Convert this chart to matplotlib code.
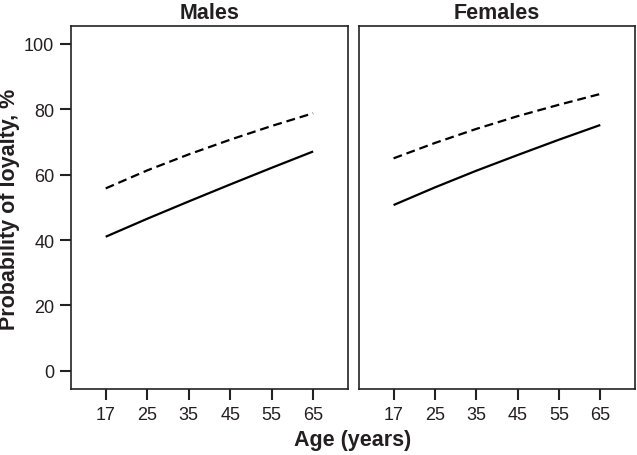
import matplotlib
matplotlib.use("Agg")
import matplotlib.pyplot as plt

ages = ["17", "25", "35", "45", "55", "65"]
panels = ["Males", "Females"]

# probability of loyalty, % (solid / dashed curves)
males_solid = [41.0, 46.5, 51.8, 57.0, 62.1, 67.1]
males_dashed = [55.8, 61.3, 66.2, 70.7, 74.9, 78.8]
females_solid = [50.7, 56.1, 61.2, 66.0, 70.7, 75.2]
females_dashed = [65.0, 69.7, 74.0, 77.9, 81.4, 84.7]

plt.rcParams['font.family'] = ['Liberation Sans', 'DejaVu Sans']
txt = '#231f20'

fig = plt.figure(figsize=(6.37, 4.56), dpi=100)
ax1 = fig.add_axes([71/637, 1-390/456, 277/637, 363/456])
ax2 = fig.add_axes([359/637, 1-390/456, 276/637, 363/456])

data = [(males_solid, males_dashed), (females_solid, females_dashed)]
xpos = list(range(len(ages)))

for ax, title, (solid, dashed) in zip([ax1, ax2], panels, data):
    ax.plot(xpos, solid, color='black', lw=1.6, solid_capstyle='butt')
    ax.plot(xpos, dashed, color='black', lw=1.6, dashes=(4, 2.2))
    ax.set_xlim(-0.836, 5.84)
    ax.set_ylim(-5.6, 105.5)
    ax.set_xticks(xpos)
    ax.set_xticklabels(ages)
    ax.set_title(title, fontsize=15.5, fontweight='bold', color=txt, pad=6)
    for s in ax.spines.values():
        s.set_linewidth(1.2)
        s.set_color('#222222')
    ax.tick_params(axis='both', direction='out', length=8, width=1.5,
                   labelsize=13, labelcolor=txt, color='#222222', pad=4)

ax1.set_yticks([0, 20, 40, 60, 80, 100])
ax2.set_yticks([])

fig.text(10/637, 1-209/456, 'Probability of loyalty, %', rotation=90,
         ha='center', va='center', fontsize=15.5, fontweight='bold', color=txt)
fig.text(353/637, 0.012, 'Age (years)', ha='center', va='bottom',
         fontsize=15.5, fontweight='bold', color=txt)

fig.savefig('out.png', dpi=100)
